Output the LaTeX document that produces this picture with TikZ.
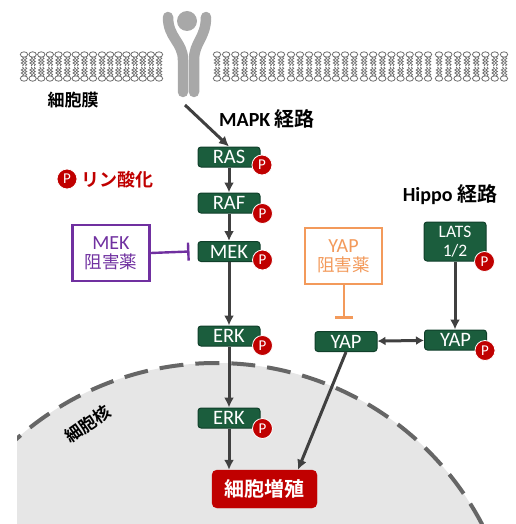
\documentclass[tikz,border=0pt]{standalone}
\usepackage{fontspec}
\setmainfont{Carlito}
\newfontfamily\jp{Noto Sans CJK JP}[BoldFont={Noto Sans CJK JP Bold}]
\usetikzlibrary{arrows.meta,calc}
\definecolor{boxgreen}{HTML}{1B5D3D}
\definecolor{greenedge}{HTML}{103F2A}
\definecolor{pred}{HTML}{C00000}
\definecolor{arrowgray}{HTML}{404040}
\definecolor{inhpurple}{HTML}{7030A0}
\definecolor{inhorange}{HTML}{F39A5B}
\definecolor{nucfill}{HTML}{E6E6E6}
\definecolor{nucedge}{HTML}{666666}
\definecolor{lipid}{HTML}{6E6E6E}
\definecolor{receptor}{HTML}{A8A8A8}
% one phospholipid pair of the bilayer at x = #1
\newcommand{\lipidunit}[1]{%
  \draw[lipid, line width=0.8pt, fill=white] (#1,54.5) ellipse[x radius=3.7pt, y radius=2.7pt];
  \draw[lipid, line width=0.8pt, fill=white] (#1,78.5) ellipse[x radius=3.7pt, y radius=2.7pt];
  \foreach \dx in {-1.5,1.5}{%
    \draw[lipid, line width=0.8pt] (#1+\dx,57) -- ++(1.2,1.5) -- ++(-2.4,1.5) -- ++(2.4,1.5) -- ++(-2.4,1.5) -- ++(2.4,1.5) -- ++(-1.2,1.5);
    \draw[lipid, line width=0.8pt] (#1+\dx,67) -- ++(1.2,1.5) -- ++(-2.4,1.5) -- ++(2.4,1.5) -- ++(-2.4,1.5) -- ++(2.4,1.5) -- ++(-1.2,1.5);
  }}
\newcommand{\lipidrow}[3]{%
  \foreach \k in {0,...,\numexpr#3-1\relax}{%
    \pgfmathsetmacro{\lx}{#1+4+\k*(#2-#1-8)/(#3-1)}%
    \lipidunit{\lx}
  }}
\begin{document}
\begin{tikzpicture}[x=1pt,y=-1pt,
  protein/.style={draw=greenedge, line width=1pt, fill=boxgreen, rounded corners=3pt,
    minimum width=62pt, minimum height=20pt, inner sep=0pt, text=white,
    font=\fontsize{20.5}{21}\selectfont},
  phos/.style={circle, fill=pred, draw=white, line width=0.8pt, minimum size=20pt,
    inner sep=0pt, text=white, font=\fontsize{15}{15}\selectfont},
  act/.style={draw=arrowgray, line width=3pt, -{Latex[length=10pt,width=10pt]}},
  inhbox/.style={draw=#1, line width=2.4pt, fill=white, minimum width=77pt,
    minimum height=56pt, inner sep=0pt, text=#1, align=center},
  inhline/.style={draw=#1, line width=2.4pt, -{Bar[width=18pt,line width=2.4pt]}},
  heading/.style={font=\fontsize{20}{22}\selectfont\bfseries, text=black},
  cjklabel/.style={font=\jp\bfseries\fontsize{17}{20}\selectfont, text=black}]
\useasboundingbox (0,0) rectangle (515,524);

% nucleus
\begin{scope}
  \clip (17,0) rectangle (515,524);
  \fill[nucfill] (216,663) circle[radius=300pt];
  \draw[nucedge, line width=4pt, dash pattern=on 24pt off 12pt] (216,663) circle[radius=300pt];
\end{scope}
\node[cjklabel, rotate=35] (nuclabel) at (88,424) {細胞核};

% membrane
\lipidrow{20}{97}{9}
\lipidrow{98}{163}{8}
\lipidrow{213}{285}{8}
\lipidrow{287}{358}{8}
\lipidrow{360}{432}{8}
\lipidrow{435}{508}{8}

% receptor
\draw[receptor, line width=10.5pt, line cap=round]
  (168,17) .. controls (168,38) and (183,42) .. (183,60) -- (183,92);
\draw[receptor, line width=10.5pt, line cap=round]
  (206,17) .. controls (206,38) and (194,42) .. (194,60) -- (194,92);
\fill[receptor] (187,21) circle[radius=10pt];
\coordinate (rcp) at (185,105);

\node[cjklabel] (membrane) at (73,100) {細胞膜};
\node[heading] (mapk) at (267,119) {MAPK {\jp\bfseries 経路}};
\node[heading] (hippo) at (450,195) {Hippo {\jp\bfseries 経路}};

% legend
\node[phos] (legp) at (67,179) {P};
\node[font=\jp\bfseries\fontsize{18}{20}\selectfont, text=pred, anchor=west] (legtext) at (78,180) {リン酸化};

% proteins
\node[protein] (ras) at (229,157) {RAS};
\node[protein] (raf) at (229,203) {RAF};
\node[protein] (mek) at (229,251.5) {MEK};
\node[protein] (erk1) at (229,336) {ERK};
\node[protein] (erk2) at (229,418) {ERK};
\node[protein] (yap1) at (346,341.5) {YAP};
\node[protein] (yap2) at (455.5,340) {YAP};
\node[protein, minimum height=39pt, align=center,
  font=\fontsize{17.5}{18.5}\selectfont] (lats) at (455,241.5) {LATS\\1/2};
\node[draw=pred, fill=pred, rounded corners=5pt, minimum width=105pt,
  minimum height=38pt, inner sep=0pt, text=white,
  font=\jp\bfseries\fontsize{20}{22}\selectfont] (prolif) at (264.5,489) {細胞増殖};

% inhibitors
\node[inhbox=inhpurple] (mekinh) at (111,253)
  {\fontsize{20}{22}\selectfont MEK\\[3pt]{\jp\fontsize{17.5}{20}\selectfont 阻害薬}};
\node[inhbox=inhorange] (yapinh) at (343.5,256)
  {\fontsize{20}{22}\selectfont YAP\\[3pt]{\jp\fontsize{17.5}{20}\selectfont 阻害薬}};
\coordinate (mekbar) at ($(mek.west)+(-8,0)$);
\coordinate (yapbar) at ($(yap1.north)+(-2,-12.5)$);
\draw[inhline=inhpurple] (mekinh.east) -- (mekbar);
\draw[inhline=inhorange] (yapinh.south -| yapbar) -- (yapbar);

% connectors
\draw[act] (rcp) -- (ras.north);
\draw[act] (ras) -- (raf);
\draw[act] (raf) -- (mek);
\draw[act] (mek) -- (erk1);
\draw[act] (erk1) -- (erk2);
\draw[act] (erk2) -- (erk2 |- prolif.north);
\draw[act] (yap1.south) -- ($(prolif.north)+(33.5,0)$);
\draw[act] (lats) -- (lats |- yap2.north);
\draw[draw=arrowgray, line width=3pt, {Latex[length=8pt,width=9pt]}-{Latex[length=8pt,width=9pt]}] (yap1) -- (yap2);

% phosphorylation marks
\node[phos] (pras) at ($(ras.south east)+(1.5,-2.5)$) {P};
\node[phos] (praf) at ($(raf.south east)+(2,0)$) {P};
\node[phos] (pmek) at ($(mek.south east)+(2,-2)$) {P};
\node[phos] (perk1) at ($(erk1.south east)+(2,-1)$) {P};
\node[phos] (perk2) at ($(erk2.south east)+(2,0)$) {P};
\node[phos] (pyap) at ($(yap2.south east)+(-2,0)$) {P};
\node[phos] (plats) at ($(lats.south east)+(-2,0)$) {P};
\end{tikzpicture}
\end{document}
